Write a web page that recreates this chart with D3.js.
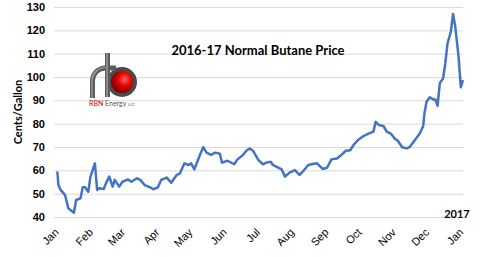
<!DOCTYPE html>
<html lang="en">

<head>
    <meta charset="UTF-8">
    <title>2016-17 Normal Butane Price</title>
    <script src="https://d3js.org/d3.v7.min.js"></script>
    <style>
        body { margin: 0; background: #fff; }
        svg { font-family: Lato, "Liberation Sans", sans-serif; }
    </style>
</head>

<body>
    <div id="chart"></div>

    <script>
        // price data (cents per gallon)
        const dates = [
            "2016-01-04", "2016-01-05", "2016-01-07", "2016-01-11", "2016-01-14", "2016-01-19", "2016-01-21",
            "2016-01-25", "2016-01-27", "2016-01-29", "2016-02-01", "2016-02-03", "2016-02-07", "2016-02-09",
            "2016-02-11", "2016-02-15", "2016-02-17", "2016-02-20", "2016-02-23", "2016-02-25", "2016-02-29",
            "2016-03-03", "2016-03-08", "2016-03-11", "2016-03-16", "2016-03-19", "2016-03-23", "2016-03-28",
            "2016-03-31", "2016-04-04", "2016-04-07", "2016-04-12", "2016-04-16", "2016-04-21", "2016-04-24",
            "2016-04-28", "2016-05-02", "2016-05-04", "2016-05-07", "2016-05-12", "2016-05-15", "2016-05-18",
            "2016-05-22", "2016-05-26", "2016-05-30", "2016-06-01", "2016-06-06", "2016-06-12", "2016-06-15",
            "2016-06-20", "2016-06-23", "2016-06-26", "2016-06-29", "2016-07-04", "2016-07-08", "2016-07-11",
            "2016-07-15", "2016-07-17", "2016-07-20", "2016-07-25", "2016-07-28", "2016-08-01", "2016-08-06",
            "2016-08-10", "2016-08-13", "2016-08-18", "2016-08-22", "2016-08-26", "2016-08-31", "2016-09-04",
            "2016-09-08", "2016-09-13", "2016-09-17", "2016-09-21", "2016-09-25", "2016-09-28", "2016-10-02",
            "2016-10-07", "2016-10-11", "2016-10-16", "2016-10-18", "2016-10-21", "2016-10-25", "2016-10-28",
            "2016-11-01", "2016-11-04", "2016-11-07", "2016-11-11", "2016-11-15", "2016-11-18", "2016-11-22",
            "2016-11-27", "2016-11-30", "2016-12-01", "2016-12-03", "2016-12-06", "2016-12-09", "2016-12-11",
            "2016-12-13", "2016-12-15", "2016-12-18", "2016-12-20", "2016-12-22", "2016-12-25", "2016-12-27",
            "2016-12-29", "2017-01-01", "2017-01-03", "2017-01-05"
        ];
        const prices = [
            59.5, 53.7, 51.6, 49.4, 43.7, 41.8, 47.3,
            48.0, 52.7, 52.7, 50.8, 57.3, 63.0, 51.6,
            52.3, 52.0, 54.4, 57.3, 53.0, 55.9, 53.0,
            55.1, 56.1, 55.1, 56.6, 55.9, 53.7, 52.7,
            51.9, 52.7, 55.9, 56.9, 54.7, 58.0, 58.7,
            63.0, 62.3, 63.0, 60.4, 66.6, 69.9, 67.6,
            66.6, 67.6, 67.1, 63.3, 64.1, 62.6, 64.7,
            66.6, 68.4, 69.4, 68.4, 64.4, 62.6, 63.3,
            63.7, 62.3, 61.6, 60.4, 57.3, 59.0, 60.1,
            58.0, 59.4, 62.3, 62.7, 63.0, 60.6, 61.1,
            64.7, 65.1, 66.6, 68.4, 68.6, 70.9, 73.0,
            74.7, 75.6, 76.6, 80.8, 79.4, 79.0, 76.6,
            75.6, 73.7, 72.7, 69.9, 69.4, 70.1, 72.7,
            75.9, 79.0, 84.0, 89.4, 91.3, 90.4, 90.4,
            87.6, 97.3, 99.4, 105.9, 114.4, 119.4, 127.0,
            121.6, 108.7, 95.6, 98.7
        ];
        const yTicks = [40, 50, 60, 70, 80, 90, 100, 110, 120, 130];
        const monthLabels = ["Jan", "Feb", "Mar", "Apr", "May", "Jun", "Jul", "Aug", "Sep", "Oct", "Nov", "Dec", "Jan"];

        const parse = d3.timeParse("%Y-%m-%d");
        const data = dates.map((d, i) => ({ date: parse(d), value: prices[i] }));

        const width = 480, height = 257;
        const plotLeft = 54, plotRight = 463, plotTop = 7, plotBottom = 217;

        const svg = d3.select("#chart")
            .append("svg")
            .attr("width", width)
            .attr("height", height);

        const x = d3.scaleTime()
            .domain([parse("2016-01-01"), parse("2017-01-05")])
            .range([plotLeft, plotRight]);

        const y = d3.scaleLinear()
            .domain([40, 130])
            .range([plotBottom, plotTop]);

        // gridlines + y labels
        const yAxis = svg.append("g")
            .attr("transform", "translate(" + plotLeft + ",0)")
            .call(d3.axisLeft(y).tickValues(yTicks).tickSize(-(plotRight - plotLeft)).tickPadding(9));
        yAxis.select(".domain").remove();
        yAxis.selectAll(".tick line").attr("stroke", "#d9d9d9");
        yAxis.selectAll(".tick text")
            .attr("fill", "#000")
            .style("font-size", "11px")
            .style("font-weight", "bold");

        // month labels, rotated
        const months = d3.timeMonth.range(parse("2016-01-01"), parse("2017-01-02"));
        const xAxis = svg.append("g")
            .attr("transform", "translate(0," + plotBottom + ")")
            .call(d3.axisBottom(x).tickValues(months).tickSize(0)
                .tickFormat((d, i) => monthLabels[i]));
        xAxis.select(".domain").remove();
        xAxis.selectAll(".tick text")
            .attr("fill", "#000")
            .style("font-size", "11px")
            .attr("text-anchor", "end")
            .attr("transform", "translate(5,16) rotate(-45)")
            .attr("y", 0)
            .attr("dy", 0);

        // price line
        const line = d3.line()
            .x(d => x(d.date))
            .y(d => y(d.value));

        svg.append("path")
            .datum(data)
            .attr("fill", "none")
            .attr("stroke", "#4472c4")
            .attr("stroke-width", 2.5)
            .attr("stroke-linejoin", "round")
            .attr("d", line);

        // title
        svg.append("text")
            .attr("x", 258)
            .attr("y", 55)
            .attr("text-anchor", "middle")
            .style("font-size", "13px")
            .style("font-weight", "bold")
            .text("2016-17 Normal Butane Price");

        svg.append("text")
            .attr("transform", "translate(22,112) rotate(-90)")
            .attr("text-anchor", "middle")
            .style("font-size", "11px")
            .style("font-weight", "bold")
            .text("Cents/Gallon");

        svg.append("text")
            .attr("x", 457)
            .attr("y", 218)
            .attr("text-anchor", "middle")
            .style("font-size", "11px")
            .style("font-weight", "bold")
            .text("2017");

        // RBN logo
        const defs = svg.append("defs");
        const grad = defs.append("radialGradient").attr("id", "ball")
            .attr("cx", "60%").attr("cy", "40%").attr("r", "60%");
        grad.append("stop").attr("offset", "0%").attr("stop-color", "#ff6060");
        grad.append("stop").attr("offset", "45%").attr("stop-color", "#e00000");
        grad.append("stop").attr("offset", "100%").attr("stop-color", "#6a0000");

        const logo = svg.append("g");
        logo.append("circle")
            .attr("cx", 122).attr("cy", 82).attr("r", 13)
            .attr("fill", "url(#ball)")
            .attr("stroke", "#4a4a4a").attr("stroke-width", 4);
        logo.append("path")
            .attr("d", "M92.5,98 V81 A13,13 0 0 1 105.5,68 H116")
            .attr("fill", "none").attr("stroke", "#5c5c5c").attr("stroke-width", 5);
        logo.append("path")
            .attr("d", "M107.5,53 V97")
            .attr("fill", "none").attr("stroke", "#5c5c5c").attr("stroke-width", 5);
        logo.append("path")
            .attr("d", "M92,98 V81 A13.5,13.5 0 0 1 105.5,67.5 M107,53 V97")
            .attr("fill", "none").attr("stroke", "#a8a8a8").attr("stroke-width", 1.2);

        const logoText = logo.append("text")
            .attr("x", 89).attr("y", 106)
            .style("font-size", "7px");
        logoText.append("tspan").attr("fill", "#d00000").text("RBN ");
        logoText.append("tspan").attr("fill", "#555").text("Energy ");
        logoText.append("tspan").attr("fill", "#555").style("font-size", "4px").text("LLC");
    </script>
</body>

</html>
